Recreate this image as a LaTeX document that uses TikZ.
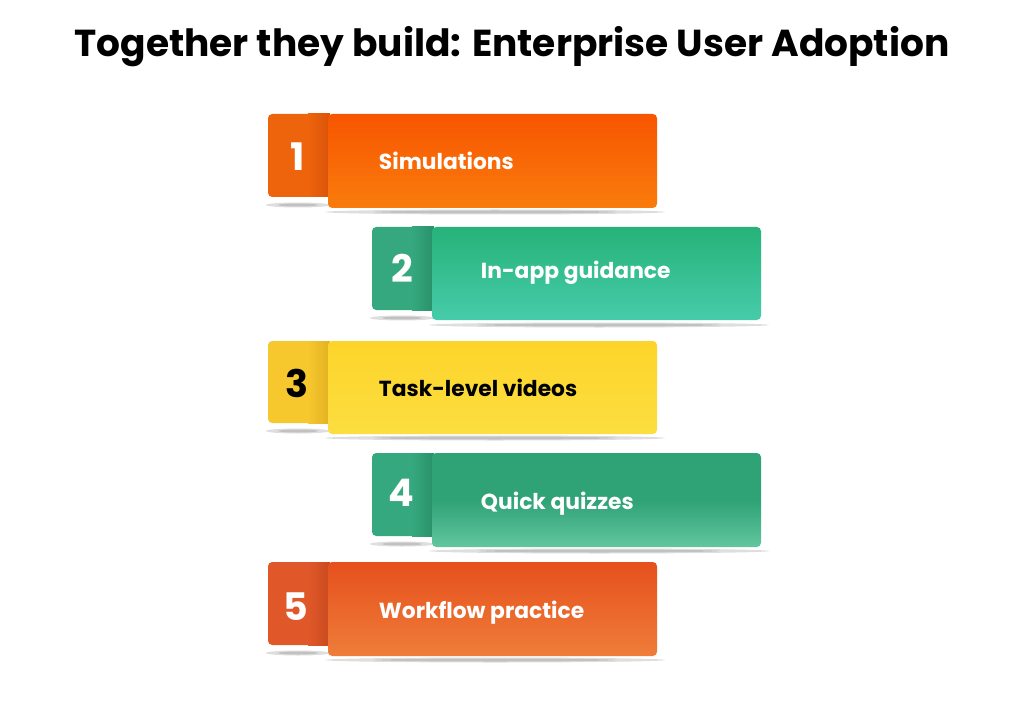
\documentclass[tikz,border=0pt]{standalone}
\usepackage{fontspec}
\setmainfont{Poppins}

\definecolor{orTop}{HTML}{F85500}
\definecolor{orBot}{HTML}{F97C0D}
\definecolor{orTab}{HTML}{EE640C}
\definecolor{orTabD}{HTML}{D9530A}
\definecolor{grTop}{HTML}{26B279}
\definecolor{grBot}{HTML}{46CCAA}
\definecolor{grTab}{HTML}{35A87F}
\definecolor{grTabD}{HTML}{2A9169}
\definecolor{yeTop}{HTML}{FDD42A}
\definecolor{yeBot}{HTML}{FCDE40}
\definecolor{yeTab}{HTML}{F7C72E}
\definecolor{yeTabD}{HTML}{E2B121}
\definecolor{gqTop}{HTML}{2FA276}
\definecolor{gqBot}{HTML}{62C69F}
\definecolor{rdTop}{HTML}{E6501D}
\definecolor{rdBot}{HTML}{EF7D39}
\definecolor{rdTab}{HTML}{E0582A}
\definecolor{rdTabD}{HTML}{C94A1E}

\tikzset{
  numtext/.style={font=\fontsize{27}{27}\selectfont\bfseries, anchor=center},
  labtext/.style={font=\fontsize{15.5}{16}\selectfont\bfseries, anchor=west},
  softshadow/.style={fill=black, opacity=0.13},
}

\begin{document}
\begin{tikzpicture}[x=0.025cm, y=-0.025cm]

\useasboundingbox[fill=white] (0,0) rectangle (1024,715);

\def\xA{268} % left column tab
\def\xB{372} % right column tab

\node[font=\fontsize{26.7}{27}\selectfont\bfseries] (title) at (512,47)
  {Together they build: Enterprise User Adoption};

% ---- 1
\fill[softshadow] (298,205) ellipse [x radius=32, y radius=2.5];
\fill[softshadow] (298,205) ellipse [x radius=20, y radius=1.5];
\fill[softshadow] (495,212) ellipse [x radius=170, y radius=2.5];
\fill[softshadow] (495,212) ellipse [x radius=120, y radius=1.5];
\fill[orTab, rounded corners=3] (\xA,114) rectangle (\xA+64,197);
\shade[left color=orTab, right color=orTabD] (\xA+40,114) rectangle (\xA+62,197);
\shade[top color=orTop, bottom color=orBot, rounded corners=3] (328,114) rectangle (657,208);
\node[numtext, white] (n1) at (298,157) {1};
\node[labtext, white] (l1) at (374,161) {Simulations};

% ---- 2
\fill[softshadow] (402,318) ellipse [x radius=32, y radius=2.5];
\fill[softshadow] (402,318) ellipse [x radius=20, y radius=1.5];
\fill[softshadow] (599,325) ellipse [x radius=170, y radius=2.5];
\fill[softshadow] (599,325) ellipse [x radius=120, y radius=1.5];
\fill[grTab, rounded corners=3] (\xB,227) rectangle (\xB+64,310);
\shade[left color=grTab, right color=grTabD] (\xB+40,227) rectangle (\xB+62,310);
\shade[top color=grTop, bottom color=grBot, rounded corners=3] (432,227) rectangle (761,320);
\node[numtext, white] (n2) at (402,268) {2};
\node[labtext, white] (l2) at (476,273) {In-app guidance};

% ---- 3
\fill[softshadow] (298,431) ellipse [x radius=32, y radius=2.5];
\fill[softshadow] (298,431) ellipse [x radius=20, y radius=1.5];
\fill[softshadow] (495,438) ellipse [x radius=170, y radius=2.5];
\fill[softshadow] (495,438) ellipse [x radius=120, y radius=1.5];
\fill[yeTab, rounded corners=3] (\xA,341) rectangle (\xA+64,423);
\shade[left color=yeTab, right color=yeTabD] (\xA+40,341) rectangle (\xA+62,423);
\shade[top color=yeTop, bottom color=yeBot, rounded corners=3] (328,341) rectangle (657,434);
\node[numtext, black] (n3) at (297,383) {3};
\node[labtext, black] (l3) at (374,388) {Task-level videos};

% ---- 4
\fill[softshadow] (402,544) ellipse [x radius=32, y radius=2.5];
\fill[softshadow] (402,544) ellipse [x radius=20, y radius=1.5];
\fill[softshadow] (599,551) ellipse [x radius=170, y radius=2.5];
\fill[softshadow] (599,551) ellipse [x radius=120, y radius=1.5];
\fill[grTab, rounded corners=3] (\xB,453) rectangle (\xB+64,536);
\shade[left color=grTab, right color=grTabD] (\xB+40,453) rectangle (\xB+62,536);
\shade[top color=gqTop, bottom color=gqBot, middle color=gqTop, rounded corners=3] (432,453) rectangle (761,547);
\node[numtext, white] (n4) at (401,493) {4};
\node[labtext, white] (l4) at (476,504) {Quick quizzes};

% ---- 5
\fill[softshadow] (298,653) ellipse [x radius=32, y radius=2.5];
\fill[softshadow] (298,653) ellipse [x radius=20, y radius=1.5];
\fill[softshadow] (495,660) ellipse [x radius=170, y radius=2.5];
\fill[softshadow] (495,660) ellipse [x radius=120, y radius=1.5];
\fill[rdTab, rounded corners=3] (\xA,562) rectangle (\xA+64,645);
\shade[left color=rdTab, right color=rdTabD] (\xA+40,562) rectangle (\xA+62,645);
\shade[top color=rdTop, bottom color=rdBot, rounded corners=3] (328,562) rectangle (657,656);
\node[numtext, white] (n5) at (296,607) {5};
\node[labtext, white] (l5) at (374,613) {Workflow practice};

\end{tikzpicture}
\end{document}
